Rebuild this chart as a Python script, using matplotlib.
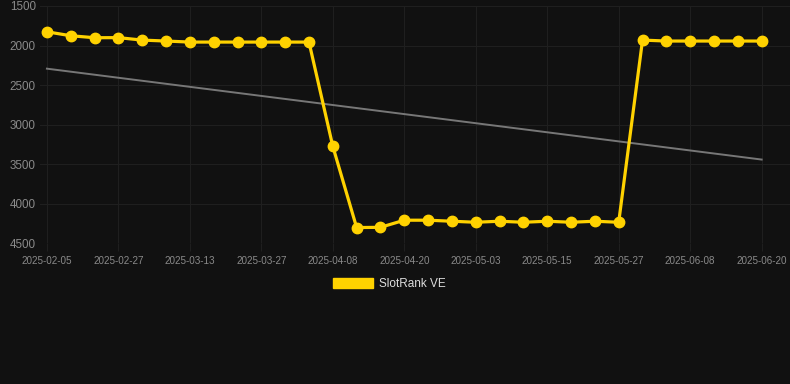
import numpy as np
import matplotlib.pyplot as plt
from matplotlib.patches import Patch

# ranks (lower rank number = better, axis is inverted)
dates = ["2025-02-05", "2025-02-12", "2025-02-20", "2025-02-27", "2025-03-03", "2025-03-08",
         "2025-03-13", "2025-03-17", "2025-03-22", "2025-03-27", "2025-03-31", "2025-04-04",
         "2025-04-08", "2025-04-12", "2025-04-16", "2025-04-20", "2025-04-24", "2025-04-29",
         "2025-05-03", "2025-05-07", "2025-05-11", "2025-05-15", "2025-05-19", "2025-05-23",
         "2025-05-27", "2025-05-31", "2025-06-04", "2025-06-08", "2025-06-12", "2025-06-16",
         "2025-06-20"]
rank = [1826, 1876, 1901, 1900, 1931, 1943, 1956, 1956, 1956, 1956, 1956, 1956,
        3274, 4301, 4298, 4208, 4208, 4221, 4234, 4221, 4234, 4221, 4234, 4221,
        4234, 1931, 1943, 1943, 1943, 1943, 1943]
yTicks = [1500, 2000, 2500, 3000, 3500, 4000, 4500]
seriesName = "SlotRank VE"

bg = "#111111"
gold = "#FFD200"
gridColor = "#1f1f1f"

x = np.arange(len(dates))
slope, intercept = np.polyfit(x, rank, 1)  # trend line

fig = plt.figure(figsize=(7.9, 3.84), dpi=100, facecolor=bg)
ax = fig.add_axes([40 / 790, 1 - 243.3 / 384, 750 / 790, 237.3 / 384])
ax.set_facecolor(bg)

ax.plot(x, slope * x + intercept, color="#777777", linewidth=1.4, zorder=2)
ax.plot(x, rank, color=gold, linewidth=2.3, marker="o", markersize=7.5, zorder=3)

ax.set_ylim(4500, 1500)
ax.set_xlim(-0.29, 31.19)
ax.set_yticks(yTicks)
ax.set_xticks(x[::3])
ax.set_xticklabels(dates[::3])

ax.grid(True, color=gridColor, linewidth=0.8)
ax.set_axisbelow(True)
for s in ax.spines.values():
    s.set_visible(False)
ax.tick_params(axis="y", length=0, pad=3, labelsize=8.4, labelcolor="#8a8a8a")
ax.tick_params(axis="x", length=6, color=gridColor, pad=3, labelsize=7.1, labelcolor="#8a8a8a")
for lbl in ax.get_xticklabels() + ax.get_yticklabels():
    lbl.set_family(["Liberation Sans", "DejaVu Sans"])

leg = fig.legend(handles=[Patch(facecolor=gold, edgecolor=gold)], labels=[seriesName],
                 loc="center", bbox_to_anchor=(389.5 / 790, 1 - 284 / 384), frameon=False,
                 handlelength=3.4, handleheight=0.93, handletextpad=0.55,
                 prop={"family": ["Liberation Sans", "DejaVu Sans"], "size": 8.5})
for t in leg.get_texts():
    t.set_color("#dddddd")

fig.savefig("out.png", dpi=100, facecolor=bg)
